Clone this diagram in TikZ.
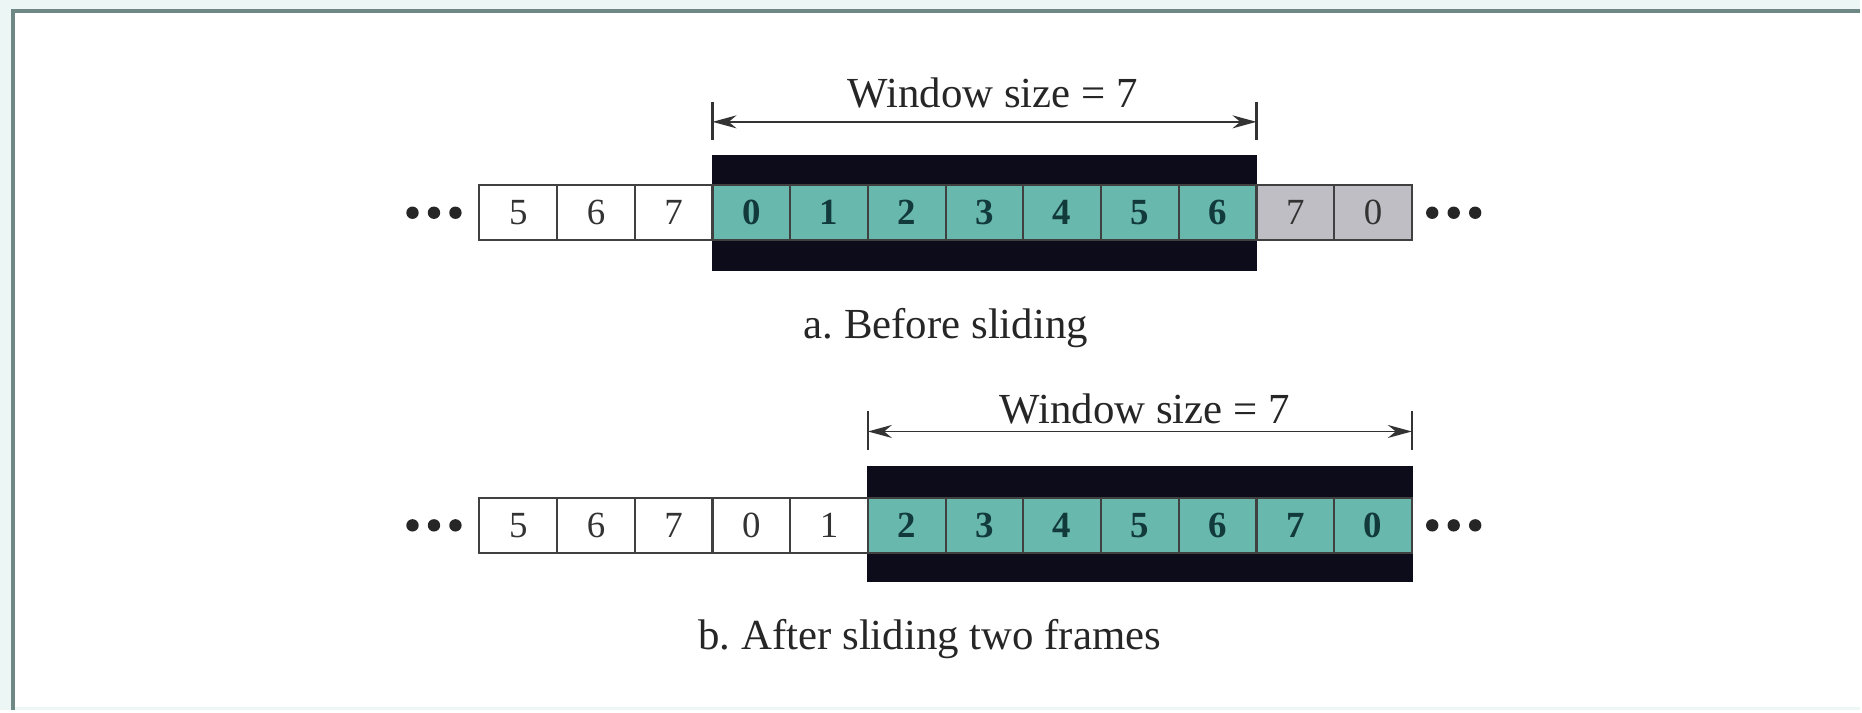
\documentclass[tikz,border=0pt]{standalone}
\usepackage{fontspec}
\setmainfont{Liberation Serif}
\usetikzlibrary{arrows.meta}
\usepackage{color}
\definecolor{seqteal}{RGB}{104,184,174}
\definecolor{seqgray}{RGB}{190,190,196}
\definecolor{winblack}{RGB}{12,12,26}
\definecolor{rimgray}{RGB}{110,136,134}
\definecolor{paper}{RGB}{236,246,245}
\definecolor{deepteal}{RGB}{18,58,58}
\frenchspacing

\begin{document}
\begin{tikzpicture}
[
cell/.style={draw=black!75,line width=0.6pt,minimum width=7.78mm,minimum height=5.5mm,inner sep=0pt,
             font=\fontsize{10.5}{12}\selectfont,text=black!80},
sent/.style={cell,fill=seqteal,text=deepteal,font=\fontsize{10.5}{12}\selectfont\bfseries},
waiting/.style={cell,fill=seqgray},
window/.style={fill=winblack,draw=winblack,minimum width=54.46mm,minimum height=11.5mm,inner sep=0pt},
caption/.style={font=\fontsize{12.2}{15}\selectfont,text=black!85},
span/.style={{Stealth[length=2.4mm,width=1.3mm]}-{Stealth[length=2.4mm,width=1.3mm]},line width=0.55pt,draw=black!80},
tick/.style={line width=0.6pt,draw=black!80},
]

%Frame
\fill[paper] (0,0) rectangle (18.62,-7.11);
\fill[white] (0.13,-0.11) rectangle (18.62,-7.08);
\draw[rimgray,line width=1.3pt] (0.13,-7.11) -- (0.13,-0.11) -- (18.62,-0.11);

%Place the nodes (before sliding)
\node[window] (wa) at (9.857,-2.13) {};
\node[cell] (a1) at (5.189,-2.125) {5};
\node[cell] (a2) at (5.967,-2.125) {6};
\node[cell] (a3) at (6.745,-2.125) {7};
\node[sent] (a4) at (7.523,-2.125) {0};
\node[sent] (a5) at (8.301,-2.125) {1};
\node[sent] (a6) at (9.079,-2.125) {2};
\node[sent] (a7) at (9.857,-2.125) {3};
\node[sent] (a8) at (10.635,-2.125) {4};
\node[sent] (a9) at (11.413,-2.125) {5};
\node[sent] (a10) at (12.191,-2.125) {6};
\node[waiting] (a11) at (12.969,-2.125) {7};
\node[waiting] (a12) at (13.747,-2.125) {0};
\node[caption] (sa) at (9.94,-0.93) {Window size = 7};
\node[caption] (ca) at (9.47,-3.28) {a. Before sliding};
\coordinate (la) at (7.134,-1.22);
\coordinate (ra) at (12.58,-1.22);

%Place the nodes (after sliding)
\node[window] (wb) at (11.413,-5.245) {};
\node[cell] (b1) at (5.189,-5.26) {5};
\node[cell] (b2) at (5.967,-5.26) {6};
\node[cell] (b3) at (6.745,-5.26) {7};
\node[cell] (b4) at (7.523,-5.26) {0};
\node[cell] (b5) at (8.301,-5.26) {1};
\node[sent] (b6) at (9.079,-5.26) {2};
\node[sent] (b7) at (9.857,-5.26) {3};
\node[sent] (b8) at (10.635,-5.26) {4};
\node[sent] (b9) at (11.413,-5.26) {5};
\node[sent] (b10) at (12.191,-5.26) {6};
\node[sent] (b11) at (12.969,-5.26) {7};
\node[sent] (b12) at (13.747,-5.26) {0};
\node[caption] (sb) at (11.46,-4.09) {Window size = 7};
\node[caption] (cb) at (9.31,-6.40) {b. After sliding two frames};
\coordinate (lb) at (8.69,-4.32);
\coordinate (rb) at (14.136,-4.32);

%Dots on both sides
\fill[black!85] (4.13,-2.13) circle (0.062) (4.345,-2.13) circle (0.062) (4.56,-2.13) circle (0.062);
\fill[black!85] (14.34,-2.13) circle (0.062) (14.555,-2.13) circle (0.062) (14.77,-2.13) circle (0.062);
\fill[black!85] (4.13,-5.26) circle (0.062) (4.345,-5.26) circle (0.062) (4.56,-5.26) circle (0.062);
\fill[black!85] (14.34,-5.26) circle (0.062) (14.555,-5.26) circle (0.062) (14.77,-5.26) circle (0.062);

%Draw the connections
\draw[span] (la) -- (ra);
\draw[tick] ([yshift=2mm]la) -- ([yshift=-1.8mm]la);
\draw[tick] ([yshift=2mm]ra) -- ([yshift=-1.8mm]ra);
\draw[span] (lb) -- (rb);
\draw[tick] ([yshift=2mm]lb) -- ([yshift=-1.9mm]lb);
\draw[tick] ([yshift=2mm]rb) -- ([yshift=-1.9mm]rb);
\end{tikzpicture}
\end{document}
